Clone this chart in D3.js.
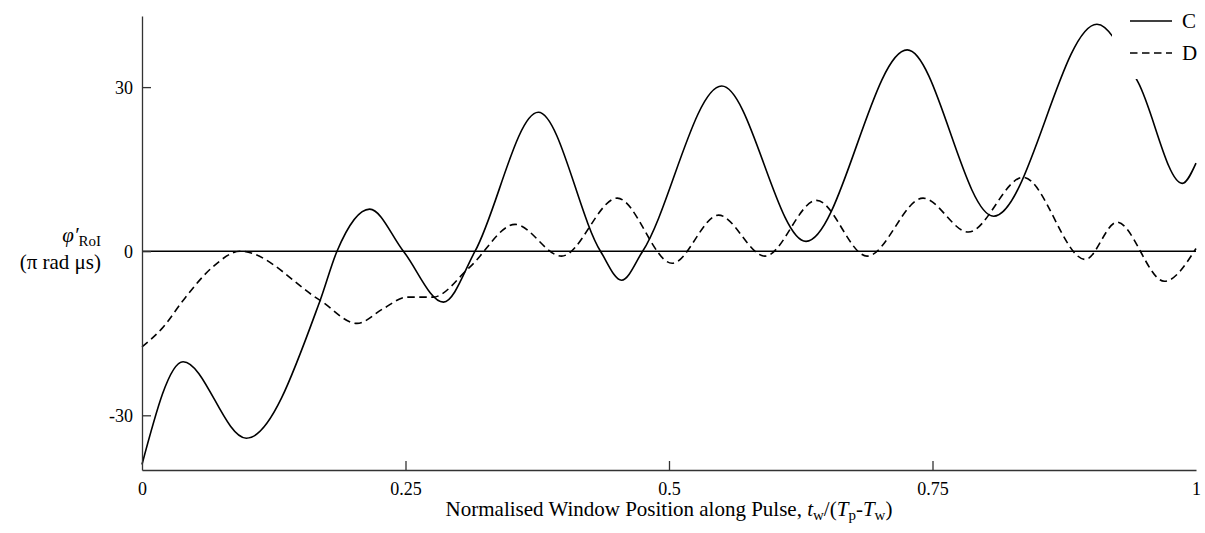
<!DOCTYPE html>
<html>
<head>
<meta charset="utf-8">
<script src="https://cdn.jsdelivr.net/npm/d3@7"></script>
<style>
  body { margin: 0; background: #fff; }
  svg { display: block; }
  text { font-family: "Liberation Serif", "Times New Roman", serif; fill: #000; }
</style>
</head>
<body>
<svg id="chart" width="1205" height="533"></svg>
<script>
// Axis ticks
const xTicks = [0, 0.25, 0.5, 0.75, 1];
const xTickLabels = ["0", "0.25", "0.5", "0.75", "1"];
const yTicks = [-30, 0, 30];
const yTickLabels = ["-30", "0", "30"];

// Series names
const seriesNames = ["C", "D"];

// Series C: window position and phase slope
const posC = [0, 0.039, 0.099, 0.169, 0.185, 0.216, 0.248, 0.286, 0.316, 0.376, 0.435, 0.455, 0.475,
              0.550, 0.630, 0.726, 0.808, 0.906, 0.945, 0.987, 1.0];
const valC = [-39, -20.2, -34.2, -9, 0, 7.7, 0, -9.3, 0, 25.4, 0, -5.3, 0,
              30.2, 1.8, 36.8, 6.4, 41.5, 30.9, 12.4, 16.1];

// Series D
const posD = [0, 0.020, 0.039, 0.067, 0.093, 0.169, 0.204, 0.229, 0.251, 0.276, 0.311, 0.354, 0.398,
              0.451, 0.503, 0.547, 0.591, 0.640, 0.688, 0.741, 0.784, 0.836, 0.895, 0.925, 0.970, 1.0];
const valD = [-17.5, -13.9, -9, -2.9, 0, -9, -13.2, -10.5, -8.4, -8.4, -2.9, 4.9, -0.9,
              9.7, -2.2, 6.6, -0.9, 9.3, -0.9, 9.7, 3.5, 13.5, -1.5, 5.3, -5.5, 0.5];

const svg = d3.select("#chart");
const W = 1205, H = 533;
const margin = { left: 142, right: 9, top: 16, bottom: 63 };

const x = d3.scaleLinear().domain([0, 1]).range([margin.left, W - margin.right]);
const y = d3.scaleLinear().domain([-40, 43]).range([H - margin.bottom, margin.top]);

const line = d3.line()
  .x(d => x(d[0]))
  .y(d => y(d[1]))
  .curve(d3.curveMonotoneX);

const dataC = posC.map((p, i) => [p, valC[i]]);
const dataD = posD.map((p, i) => [p, valD[i]]);
const dashPattern = "7.5,4.5";

// Zero reference line
svg.append("line")
  .attr("x1", x(0)).attr("x2", x(1))
  .attr("y1", y(0)).attr("y2", y(0))
  .attr("stroke", "#000").attr("stroke-width", 1.5);

// Curves
svg.append("path").datum(dataD)
  .attr("d", line).attr("fill", "none")
  .attr("stroke", "#000").attr("stroke-width", 1.6)
  .attr("stroke-dasharray", dashPattern);

svg.append("path").datum(dataC)
  .attr("d", line).attr("fill", "none")
  .attr("stroke", "#000").attr("stroke-width", 1.6);

// Axes
const xAxis = d3.axisBottom(x).tickValues(xTicks)
  .tickFormat((d, i) => xTickLabels[i]).tickSizeInner(-9).tickSizeOuter(0).tickPadding(12);
const gx = svg.append("g").attr("transform", `translate(0,${y.range()[0]})`).call(xAxis);

const yAxis = d3.axisLeft(y).tickValues(yTicks)
  .tickFormat((d, i) => yTickLabels[i]).tickSizeInner(-9).tickSizeOuter(0).tickPadding(9);
const gy = svg.append("g").attr("transform", `translate(${margin.left},0)`).call(yAxis);

[gx, gy].forEach(g => {
  g.select(".domain").attr("stroke", "#333").attr("stroke-width", 1.3);
  g.selectAll(".tick line").attr("stroke", "#333").attr("stroke-width", 1.3);
  g.selectAll(".tick text").attr("font-size", 18)
    .attr("font-family", "Liberation Serif, Times New Roman, serif").attr("fill", "#000");
});
// first and last x ticks sit on the axis frame
gx.selectAll(".tick line").filter(d => d === 0 || d === 1).remove();
gy.selectAll(".tick text").attr("dy", "0.35em");

// Y axis title, two lines
const yt1 = svg.append("text").attr("text-anchor", "end").attr("font-size", 21)
  .attr("x", 101).attr("y", 242);
yt1.append("tspan").attr("font-style", "italic").text("φ′");
yt1.append("tspan").attr("font-size", 15).attr("dy", 4).text("RoI");
svg.append("text").attr("text-anchor", "end").attr("font-size", 21)
  .attr("x", 101).attr("y", 269).text("(π rad μs)");

// X axis title
const xt = svg.append("text").attr("text-anchor", "middle")
  .attr("x", (x(0) + x(1)) / 2).attr("y", 516).attr("font-size", 21);
xt.append("tspan").text("Normalised Window Position along Pulse, ");
xt.append("tspan").attr("font-style", "italic").text("t");
xt.append("tspan").attr("font-size", 15).attr("dy", 4).text("w");
xt.append("tspan").attr("dy", -4).text("/(");
xt.append("tspan").attr("font-style", "italic").text("T");
xt.append("tspan").attr("font-size", 15).attr("dy", 4).text("p");
xt.append("tspan").attr("dy", -4).text("-");
xt.append("tspan").attr("font-style", "italic").text("T");
xt.append("tspan").attr("font-size", 15).attr("dy", 4).text("w");
xt.append("tspan").attr("dy", -4).text(")");

// Legend with opaque background
const lg = svg.append("g");
lg.append("rect").attr("x", 1112).attr("y", 0).attr("width", 93).attr("height", 79).attr("fill", "#fff");
const dashes = [null, dashPattern];
seriesNames.forEach((name, i) => {
  const ly = 21 + i * 32;
  lg.append("line").attr("x1", 1130).attr("x2", 1172).attr("y1", ly).attr("y2", ly)
    .attr("stroke", "#000").attr("stroke-width", 1.6)
    .attr("stroke-dasharray", dashes[i]);
  lg.append("text").attr("x", 1182).attr("y", ly + 7).attr("font-size", 21).text(name);
});
</script>
</body>
</html>
